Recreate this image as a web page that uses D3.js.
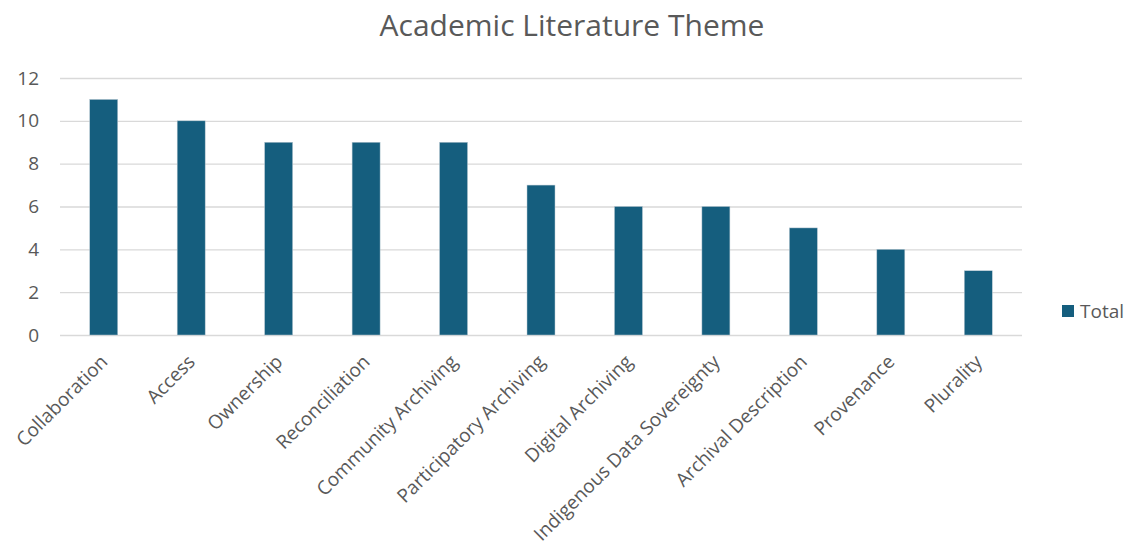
<!DOCTYPE html>
<html>
<head>
<meta charset="utf-8">
<script src="https://cdn.jsdelivr.net/npm/d3@7"></script>
<style>
  body { margin: 0; background: #fff; }
  svg text { font-family: "Open Sans", "Noto Sans", sans-serif; fill: #595959; }
</style>
</head>
<body>
<div id="chart"></div>
<script>
// chart data
var themes = ["Collaboration", "Access", "Ownership", "Reconciliation", "Community Archiving",
  "Participatory Archiving", "Digital Archiving", "Indigenous Data Sovereignty",
  "Archival Description", "Provenance", "Plurality"];
var totals = [11, 10, 9, 9, 9, 7, 6, 6, 5, 4, 3];
var yTicks = [0, 2, 4, 6, 8, 10, 12];

var svgWidth = 1136;
var svgHeight = 548;

var margin = { top: 78, right: 114, bottom: 213, left: 60 };
var chartWidth = svgWidth - margin.left - margin.right;
var chartHeight = svgHeight - margin.top - margin.bottom;

var svg = d3.select("#chart")
  .append("svg")
  .attr("width", svgWidth)
  .attr("height", svgHeight);

svg.append("text")
  .attr("x", 572)
  .attr("y", 36)
  .attr("text-anchor", "middle")
  .attr("font-size", "30px")
  .text("Academic Literature Theme");

var chartGroup = svg.append("g")
  .attr("transform", `translate(${margin.left}, ${margin.top})`);

var data = themes.map((t, i) => ({ theme: t, total: totals[i] }));

var xScale = d3.scaleBand()
  .domain(themes)
  .range([0, chartWidth])
  .paddingInner(0.68)
  .paddingOuter(0.34);

var yScale = d3.scaleLinear()
  .domain([0, 12])
  .range([chartHeight, 0]);

// gridlines + y labels
var leftAxis = d3.axisLeft(yScale)
  .tickValues(yTicks)
  .tickSize(-chartWidth)
  .tickPadding(21);

var yAxis = chartGroup.append("g").call(leftAxis);
yAxis.select(".domain").remove();
yAxis.selectAll("line").attr("stroke", "#d9d9d9").attr("stroke-width", 1.3);
yAxis.selectAll("text").attr("font-size", "19px").attr("fill", "#595959")
  .style("font-family", "'Open Sans', sans-serif");

chartGroup.selectAll("rect.bar")
  .data(data)
  .enter().append("rect")
  .attr("class", "bar")
  .attr("x", d => xScale(d.theme))
  .attr("y", d => yScale(d.total))
  .attr("width", xScale.bandwidth())
  .attr("height", d => chartHeight - yScale(d.total))
  .attr("fill", "#155e7e")
  .attr("stroke", "#b8c8d2")
  .attr("stroke-width", 0.5);

// x labels rotated
var bottomAxis = d3.axisBottom(xScale).tickSize(0).tickPadding(0);
var xAxis = chartGroup.append("g")
  .attr("transform", `translate(0, ${chartHeight})`)
  .call(bottomAxis);
xAxis.select(".domain").remove();
xAxis.selectAll("text")
  .attr("font-size", "19px")
  .attr("fill", "#595959")
  .style("font-family", "'Open Sans', sans-serif")
  .attr("text-anchor", "end")
  .attr("dy", "0")
  .attr("transform", "translate(5, 28) rotate(-45)");

// legend
var legend = svg.append("g").attr("transform", "translate(1062, 305)");
legend.append("rect")
  .attr("width", 12)
  .attr("height", 12)
  .attr("fill", "#155e7e");
legend.append("text")
  .attr("x", 18)
  .attr("y", 13)
  .attr("font-size", "19px")
  .text("Total");
</script>
</body>
</html>
